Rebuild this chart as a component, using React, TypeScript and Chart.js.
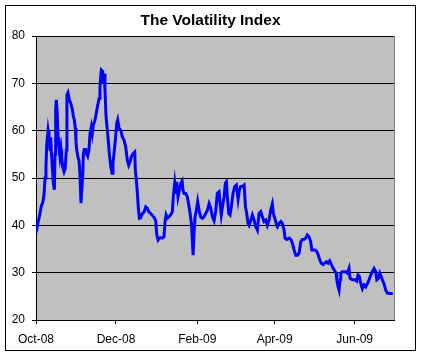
import { useEffect, useRef } from "react";
import { Chart, registerables } from "chart.js";

Chart.register(...registerables);

// Days elapsed since 1 Oct 2008
const dayOffsets = [
  0, 1.5, 3.1, 4.0, 5.3, 6.1, 6.9, 7.6, 8.2, 9.2,
  9.9, 10.7, 11.2, 11.7, 12.4, 13.2, 14.0, 14.5, 15.0, 15.5,
  16.2, 16.8, 17.5, 18.3, 19.1, 19.6, 20.4, 21.4, 22.3, 23.1,
  23.6, 24.4, 25.4, 26.5, 27.7, 28.5, 29.2, 30.0, 30.5, 31.0,
  32.0, 32.8, 33.6, 34.3, 34.9, 35.6, 36.1, 36.8, 37.9, 38.7,
  39.4, 40.4, 41.2, 42.2, 42.9, 43.7, 44.8, 45.5, 46.8, 48.1,
  48.8, 49.8, 50.9, 51.3, 51.9, 52.6, 53.4, 54.4, 55.1, 55.9,
  57.0, 58.0, 58.7, 59.5, 60.5, 61.6, 62.3, 63.3, 64.6, 65.8,
  67.1, 68.4, 69.6, 70.7, 71.7, 72.7, 74.2, 75.3, 75.7, 76.5,
  77.3, 78.0, 78.8, 79.9, 81.1, 82.4, 83.7, 84.9, 86.2, 87.5,
  88.7, 90.0, 91.3, 92.1, 93.1, 94.1, 95.1, 96.3, 97.6, 98.4,
  99.2, 100.2, 101.4, 102.7, 104.0, 104.7, 105.8, 106.6, 107.3, 108.3,
  109.3, 110.4, 111.4, 112.1, 112.9, 114.2, 115.4, 116.5, 117.5, 118.5,
  119.2, 119.8, 120.5, 121.3, 122.3, 123.3, 124.3, 125.6, 126.9, 128.1,
  129.4, 130.7, 132.0, 133.3, 134.5, 135.8, 137.1, 138.3, 139.6, 140.4,
  141.3, 142.4, 143.4, 144.4, 145.2, 145.9, 147.0, 148.0, 149.0, 150.3,
  151.6, 152.8, 154.1, 155.1, 156.1, 157.4, 158.7, 159.7, 160.7, 161.7,
  162.5, 163.8, 165.0, 166.3, 167.6, 168.8, 170.1, 171.4, 172.6, 173.9,
  175.2, 176.4, 177.7, 179.0, 180.2, 181.0, 182.1, 183.6, 184.1, 185.4,
  186.7, 187.9, 189.2, 189.9, 191.2, 193.0, 194.3, 195.5, 196.8, 198.1,
  199.3, 200.6, 201.9, 203.1, 204.4, 205.7, 206.9, 208.2, 209.5, 210.3,
  211.5, 212.8, 214.1, 215.3, 216.4, 217.6, 218.9, 220.2, 221.4, 222.7,
  224.0, 225.2, 226.5, 227.8, 228.8, 229.4, 230.4, 231.1, 231.9, 232.4,
  233.6, 234.9, 236.2, 237.4, 238.7, 239.5, 241.3, 243.1, 244.6, 245.6,
  246.6, 247.7, 248.9, 250.2, 251.5, 252.7, 254.0, 255.3, 256.5, 257.8,
  259.1, 259.9, 261.1, 262.2, 263.2, 264.5, 265.4, 266.7, 268.0, 270.0,
  272.1,
];

const vixValues = [
  38.5, 40.5, 42.6, 44, 45, 46.4, 50, 52.4, 57, 60,
  58.5, 56, 58.6, 55.5, 52.5, 49, 47.5, 55, 64.4, 66.5,
  63.6, 58.6, 56.5, 54.4, 56, 54.4, 52.3, 51.3, 52, 55.9,
  67.5, 68, 66.5, 65.8, 64.5, 63, 62.3, 60.5, 57.7, 56,
  54.4, 53.7, 50.3, 44.7, 47.4, 50.3, 55, 56, 56, 55,
  54.6, 56, 59.4, 60.8, 59.4, 61.2, 62, 63, 65, 66.8,
  69.3, 72.8, 72.5, 70, 72, 68.6, 63, 60.1, 58, 55.2,
  52.4, 51, 53.1, 55.2, 58, 61.6, 62.3, 60.5, 60.1, 58.7,
  58, 56.6, 53.8, 52.7, 53.4, 54.5, 55.2, 55.5, 52, 49.6,
  46.8, 43.9, 41.5, 41.6, 42.5, 42.8, 43.9, 43.6, 42.8, 42.5,
  42.1, 41.7, 41, 38, 36.9, 37.3, 37.4, 37.3, 37.6, 40.8,
  42.2, 41.5, 41.8, 42.2, 42.9, 46, 48.9, 46.7, 49.2, 46,
  47.4, 48.9, 49.4, 47.4, 46.7, 46.7, 46, 44.3, 42.5, 40.4,
  36.9, 33.7, 38.3, 41.8, 43.2, 45, 43.2, 41.8, 41.5, 41.8,
  42.5, 43.2, 44.6, 43.6, 41.8, 41, 43.2, 46.8, 47.1, 44.6,
  42.2, 44.3, 46, 48.9, 49.2, 46, 42.5, 42.2, 44, 46.8,
  48.2, 48.5, 45.5, 47.5, 48.2, 48.2, 48.5, 44, 42.5, 40.4,
  40, 41.1, 42.2, 41.1, 39.7, 39, 42.5, 42.9, 41.8, 40.8,
  41.1, 40, 41.1, 43.2, 44.5, 42.5, 41.5, 40, 39.7, 40.4,
  40.8, 40.4, 39, 37.3, 37, 37.3, 37, 36.2, 34.8, 33.7,
  33.7, 34.1, 36.5, 37, 37, 37.3, 38, 37.6, 36.5, 34.8,
  34.8, 34.8, 34.5, 33.7, 32.7, 32, 31.7, 32, 32.3, 32,
  32.5, 31.7, 31, 30.4, 29.9, 28.5, 27, 26.3, 28.5, 29.9,
  30.2, 30.2, 30.2, 29.9, 30.9, 28.8, 28.5, 28.5, 28.2, 29.5,
  29.2, 27.7, 26.6, 27.4, 27, 27.7, 28.5, 29.5, 30.2, 30.9,
  30.2, 28.5, 28.8, 29.9, 29.2, 28.2, 27.7, 26.3, 25.7, 25.6,
  25.6,
];

const xTickDays = [0, 61, 123, 182, 243];
const xTickLabels = ["Oct-08", "Dec-08", "Feb-09", "Apr-09", "Jun-09"];
const xAxisEndDay = 273;
const yMin = 20;
const yMax = 80;
const yStep = 10;
const chartTitle = "The Volatility Index";

const FONT = '"Liberation Sans", Arial, sans-serif';

const framePlugin = {
  id: "excelFrame",
  beforeDraw(chart: any) {
    const { ctx, chartArea: a, width, height } = chart;
    ctx.save();
    ctx.fillStyle = "#ffffff";
    ctx.fillRect(0, 0, width, height);
    ctx.strokeStyle = "#000000";
    ctx.lineWidth = 1;
    ctx.strokeRect(5.5, 5.5, 410, 345);
    ctx.fillStyle = "#c0c0c0";
    ctx.fillRect(a.left, a.top, a.right - a.left, a.bottom - a.top);
    // chart title, centred over the frame
    ctx.fillStyle = "#000000";
    ctx.font = `bold 15.5px ${FONT}`;
    ctx.textAlign = "center";
    ctx.textBaseline = "alphabetic";
    ctx.fillText(chartTitle, 210.5, 25);
    ctx.restore();
  },
  beforeDatasetsDraw(chart: any) {
    const { ctx, chartArea: a } = chart;
    ctx.save();
    ctx.strokeStyle = "#808080";
    ctx.lineWidth = 1;
    ctx.beginPath();
    const x = Math.round(a.right) + 0.5;
    ctx.moveTo(x, a.top);
    ctx.lineTo(x, a.bottom);
    ctx.stroke();
    ctx.restore();
  },
};

export default function App() {
  const canvasRef = useRef<HTMLCanvasElement | null>(null);

  useEffect(() => {
    if (!canvasRef.current) return;
    const points = dayOffsets.map((d, i) => ({ x: d, y: vixValues[i] }));
    const chart = new Chart(canvasRef.current, {
      type: "line",
      data: {
        datasets: [
          {
            data: points,
            borderColor: "#0000ff",
            borderWidth: 3,
            pointRadius: 0,
            tension: 0,
            fill: false,
          },
        ],
      },
      plugins: [framePlugin],
      options: {
        animation: false,
        responsive: false,
        devicePixelRatio: 1,
        layout: { padding: { left: 0, top: 36, right: 28, bottom: 0 } },
        plugins: {
          legend: { display: false },
          tooltip: { enabled: false },
          title: { display: false },
        },
        scales: {
          x: {
            type: "linear",
            min: 0,
            max: xAxisEndDay,
            afterFit(scale: any) {
              scale.height = 37;
            },
            afterBuildTicks(scale: any) {
              scale.ticks = xTickDays.map((v) => ({ value: v }));
            },
            ticks: {
              autoSkip: false,
              maxRotation: 0,
              color: "#000000",
              font: { family: FONT, size: 12 },
              padding: 8,
              callback: (value: any) => {
                const i = xTickDays.indexOf(Number(value));
                return i >= 0 ? xTickLabels[i] : "";
              },
            },
            grid: {
              display: true,
              drawOnChartArea: false,
              drawTicks: true,
              tickLength: 4,
              color: "#000000",
            },
            border: { display: true, color: "#000000", width: 1 },
          },
          y: {
            min: yMin,
            max: yMax,
            afterFit(scale: any) {
              scale.width = 36;
            },
            ticks: {
              stepSize: yStep,
              color: "#000000",
              font: { family: FONT, size: 12 },
              padding: 7,
            },
            grid: {
              color: "#000000",
              lineWidth: 1,
              tickLength: 4,
            },
            border: { display: true, color: "#000000", width: 1 },
          },
        },
      },
    });
    return () => chart.destroy();
  }, []);

  return (
    <div style={{ position: "absolute", left: 0, top: 0, width: 422, height: 357 }}>
      <canvas ref={canvasRef} width={422} height={357} style={{ display: "block" }} />
    </div>
  );
}
